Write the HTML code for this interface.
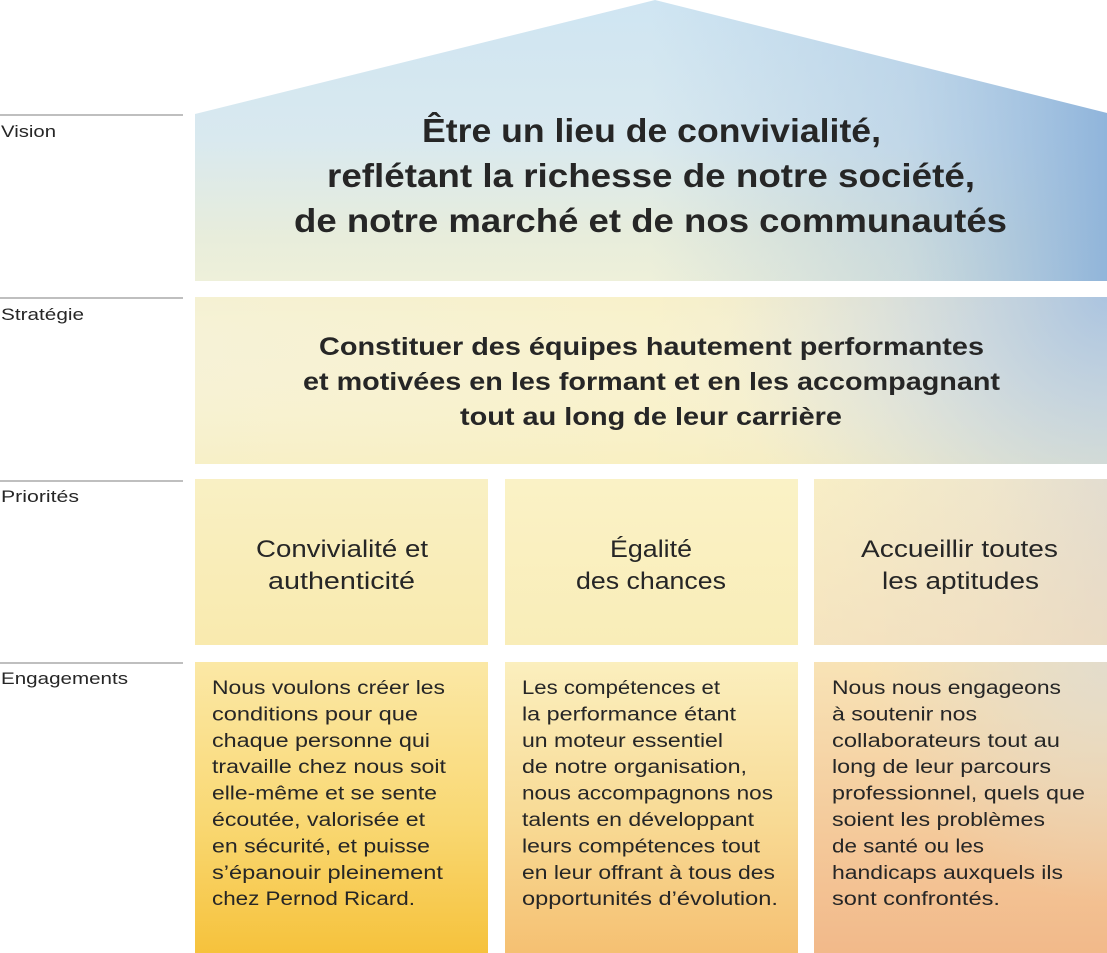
<!DOCTYPE html>
<html>
<head>
<meta charset="utf-8">
<style>
  html,body{margin:0;padding:0;background:#fff;}
  body{width:1107px;height:953px;overflow:hidden;}
  svg{display:block;}
  text{font-family:"Liberation Sans", sans-serif;fill:#262626;}
</style>
</head>
<body>
<svg width="1107" height="953" viewBox="0 0 1107 953" xmlns="http://www.w3.org/2000/svg">
  <defs>
    <!-- Vision -->
    <linearGradient id="vb" x1="0" y1="0" x2="0" y2="1">
      <stop offset="0" stop-color="#cfe5f2"/>
      <stop offset="0.5" stop-color="#d9e9ef"/>
      <stop offset="0.85" stop-color="#e8eddb"/>
      <stop offset="1" stop-color="#eef0da"/>
    </linearGradient>
    <linearGradient id="vo" x1="0" y1="0" x2="1" y2="0">
      <stop offset="0" stop-color="#a3c1e0" stop-opacity="0"/>
      <stop offset="0.5" stop-color="#a3c1e0" stop-opacity="0"/>
      <stop offset="0.78" stop-color="#a3c1e0" stop-opacity="0.45"/>
      <stop offset="1" stop-color="#8cb2da" stop-opacity="0.95"/>
    </linearGradient>
    <!-- Strategy -->
    <linearGradient id="sb" x1="0" y1="0" x2="1" y2="0">
      <stop offset="0" stop-color="#f5f1d3"/>
      <stop offset="0.5" stop-color="#f8f1ca"/>
      <stop offset="0.8" stop-color="#ebe8d4"/>
      <stop offset="1" stop-color="#dde0d6"/>
    </linearGradient>
    <radialGradient id="so" gradientUnits="userSpaceOnUse" cx="1107" cy="297" r="380">
      <stop offset="0" stop-color="#a9c3e0" stop-opacity="0.95"/>
      <stop offset="0.5" stop-color="#c2d3e2" stop-opacity="0.5"/>
      <stop offset="1" stop-color="#d8e0e0" stop-opacity="0"/>
    </radialGradient>
    <linearGradient id="sv" x1="0" y1="0" x2="0" y2="1">
      <stop offset="0" stop-color="#ffffff" stop-opacity="0"/>
      <stop offset="1" stop-color="#faeeb8" stop-opacity="0.45"/>
    </linearGradient>
    <!-- Priorities -->
    <linearGradient id="p1" x1="0" y1="0" x2="0" y2="1">
      <stop offset="0" stop-color="#f9f0c4"/>
      <stop offset="1" stop-color="#f9eaae"/>
    </linearGradient>
    <linearGradient id="p2" x1="0" y1="0" x2="0" y2="1">
      <stop offset="0" stop-color="#faf2c6"/>
      <stop offset="1" stop-color="#f9edb8"/>
    </linearGradient>
    <linearGradient id="p3" x1="0" y1="0" x2="1" y2="0">
      <stop offset="0" stop-color="#f8eec6"/>
      <stop offset="0.6" stop-color="#efe6cc"/>
      <stop offset="1" stop-color="#e3ddd0"/>
    </linearGradient>
    <linearGradient id="p3v" x1="0" y1="0" x2="0" y2="1">
      <stop offset="0" stop-color="#f2d9b8" stop-opacity="0"/>
      <stop offset="1" stop-color="#f2d9b8" stop-opacity="0.5"/>
    </linearGradient>
    <!-- Engagements -->
    <linearGradient id="e1" x1="0" y1="0" x2="0" y2="1">
      <stop offset="0" stop-color="#fbe8a6"/>
      <stop offset="0.55" stop-color="#f9d873"/>
      <stop offset="1" stop-color="#f6c23c"/>
    </linearGradient>
    <linearGradient id="e2" x1="0" y1="0" x2="0" y2="1">
      <stop offset="0" stop-color="#fbefbe"/>
      <stop offset="0.55" stop-color="#f8da94"/>
      <stop offset="1" stop-color="#f5c072"/>
    </linearGradient>
    <linearGradient id="e3" x1="0" y1="0" x2="0" y2="1">
      <stop offset="0" stop-color="#f8e3b6"/>
      <stop offset="0.55" stop-color="#f4cb9c"/>
      <stop offset="1" stop-color="#f2b98a"/>
    </linearGradient>
    <radialGradient id="e3o" gradientUnits="userSpaceOnUse" cx="1107" cy="662" r="240">
      <stop offset="0" stop-color="#e2dccd" stop-opacity="0.95"/>
      <stop offset="1" stop-color="#e2dccd" stop-opacity="0"/>
    </radialGradient>
  </defs>

  <!-- Left labels and rules -->
  <g stroke="#aaaaaa" stroke-width="1.5">
    <line x1="0" y1="115" x2="183" y2="115"/>
    <line x1="0" y1="298" x2="183" y2="298"/>
    <line x1="0" y1="481" x2="183" y2="481"/>
    <line x1="0" y1="663" x2="183" y2="663"/>
  </g>
  <g font-size="17">
    <text x="1" y="137" textLength="55" lengthAdjust="spacingAndGlyphs">Vision</text>
    <text x="1" y="320" textLength="83" lengthAdjust="spacingAndGlyphs">Stratégie</text>
    <text x="1" y="502" textLength="78" lengthAdjust="spacingAndGlyphs">Priorités</text>
    <text x="1" y="684" textLength="127" lengthAdjust="spacingAndGlyphs">Engagements</text>
  </g>

  <!-- Vision house -->
  <polygon points="195,114 655,0 1107,113 1107,281 195,281" fill="url(#vb)"/>
  <polygon points="195,114 655,0 1107,113 1107,281 195,281" fill="url(#vo)"/>

  <!-- Strategy -->
  <rect x="195" y="297" width="912" height="167" fill="url(#sb)"/>
  <rect x="195" y="297" width="912" height="167" fill="url(#sv)"/>
  <rect x="195" y="297" width="912" height="167" fill="url(#so)"/>

  <!-- Priorities -->
  <rect x="195" y="479" width="293" height="166" fill="url(#p1)"/>
  <rect x="505" y="479" width="293" height="166" fill="url(#p2)"/>
  <rect x="814" y="479" width="293" height="166" fill="url(#p3)"/>
  <rect x="814" y="479" width="293" height="166" fill="url(#p3v)"/>

  <!-- Engagements -->
  <rect x="195" y="662" width="293" height="291" fill="url(#e1)"/>
  <rect x="505" y="662" width="293" height="291" fill="url(#e2)"/>
  <rect x="814" y="662" width="293" height="291" fill="url(#e3)"/>
  <rect x="814" y="662" width="293" height="291" fill="url(#e3o)"/>

  <!-- Vision text -->
  <g font-size="33" font-weight="bold">
    <text x="422" y="142" textLength="459" lengthAdjust="spacingAndGlyphs">Être un lieu de convivialité,</text>
    <text x="327" y="187" textLength="648" lengthAdjust="spacingAndGlyphs">reflétant la richesse de notre société,</text>
    <text x="294" y="232" textLength="713" lengthAdjust="spacingAndGlyphs">de notre marché et de nos communautés</text>
  </g>

  <!-- Strategy text -->
  <g font-size="25" font-weight="bold" style="fill:#2a2a2a">
    <text x="319" y="355" textLength="665" lengthAdjust="spacingAndGlyphs">Constituer des équipes hautement performantes</text>
    <text x="303" y="390" textLength="697" lengthAdjust="spacingAndGlyphs">et motivées en les formant et en les accompagnant</text>
    <text x="460" y="425" textLength="382" lengthAdjust="spacingAndGlyphs">tout au long de leur carrière</text>
  </g>

  <!-- Priorities text -->
  <g font-size="24">
    <text x="256" y="557" textLength="172" lengthAdjust="spacingAndGlyphs">Convivialité et</text>
    <text x="268" y="589" textLength="147" lengthAdjust="spacingAndGlyphs">authenticité</text>
    <text x="610" y="557" textLength="82" lengthAdjust="spacingAndGlyphs">Égalité</text>
    <text x="576" y="589" textLength="150" lengthAdjust="spacingAndGlyphs">des chances</text>
    <text x="861" y="557" textLength="197" lengthAdjust="spacingAndGlyphs">Accueillir toutes</text>
    <text x="882" y="589" textLength="157" lengthAdjust="spacingAndGlyphs">les aptitudes</text>
  </g>

  <!-- Engagements text -->
  <g font-size="19">
    <text x="212" y="694" textLength="233" lengthAdjust="spacingAndGlyphs">Nous voulons créer les</text>
    <text x="212" y="720.4" textLength="206" lengthAdjust="spacingAndGlyphs">conditions pour que</text>
    <text x="212" y="746.8" textLength="218" lengthAdjust="spacingAndGlyphs">chaque personne qui</text>
    <text x="212" y="773.2" textLength="234" lengthAdjust="spacingAndGlyphs">travaille chez nous soit</text>
    <text x="212" y="799.6" textLength="225" lengthAdjust="spacingAndGlyphs">elle-même et se sente</text>
    <text x="212" y="826" textLength="213" lengthAdjust="spacingAndGlyphs">écoutée, valorisée et</text>
    <text x="212" y="852.4" textLength="218" lengthAdjust="spacingAndGlyphs">en sécurité, et puisse</text>
    <text x="212" y="878.8" textLength="231" lengthAdjust="spacingAndGlyphs">s’épanouir pleinement</text>
    <text x="212" y="905.2" textLength="203" lengthAdjust="spacingAndGlyphs">chez Pernod Ricard.</text>

    <text x="522" y="694" textLength="198" lengthAdjust="spacingAndGlyphs">Les compétences et</text>
    <text x="522" y="720.4" textLength="214" lengthAdjust="spacingAndGlyphs">la performance étant</text>
    <text x="522" y="746.8" textLength="201" lengthAdjust="spacingAndGlyphs">un moteur essentiel</text>
    <text x="522" y="773.2" textLength="225" lengthAdjust="spacingAndGlyphs">de notre organisation,</text>
    <text x="522" y="799.6" textLength="251" lengthAdjust="spacingAndGlyphs">nous accompagnons nos</text>
    <text x="522" y="826" textLength="232" lengthAdjust="spacingAndGlyphs">talents en développant</text>
    <text x="522" y="852.4" textLength="238" lengthAdjust="spacingAndGlyphs">leurs compétences tout</text>
    <text x="522" y="878.8" textLength="253" lengthAdjust="spacingAndGlyphs">en leur offrant à tous des</text>
    <text x="522" y="905.2" textLength="256" lengthAdjust="spacingAndGlyphs">opportunités d’évolution.</text>

    <text x="832" y="694" textLength="229" lengthAdjust="spacingAndGlyphs">Nous nous engageons</text>
    <text x="832" y="720.4" textLength="145" lengthAdjust="spacingAndGlyphs">à soutenir nos</text>
    <text x="832" y="746.8" textLength="228" lengthAdjust="spacingAndGlyphs">collaborateurs tout au</text>
    <text x="832" y="773.2" textLength="219" lengthAdjust="spacingAndGlyphs">long de leur parcours</text>
    <text x="832" y="799.6" textLength="253" lengthAdjust="spacingAndGlyphs">professionnel, quels que</text>
    <text x="832" y="826" textLength="213" lengthAdjust="spacingAndGlyphs">soient les problèmes</text>
    <text x="832" y="852.4" textLength="152" lengthAdjust="spacingAndGlyphs">de santé ou les</text>
    <text x="832" y="878.8" textLength="231" lengthAdjust="spacingAndGlyphs">handicaps auxquels ils</text>
    <text x="832" y="905.2" textLength="168" lengthAdjust="spacingAndGlyphs">sont confrontés.</text>
  </g>
</svg>
</body>
</html>
